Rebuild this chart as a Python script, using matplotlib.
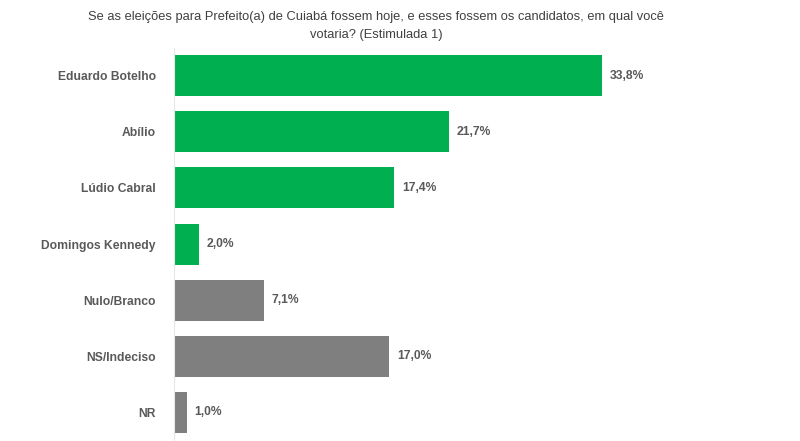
import numpy as np
import matplotlib.pyplot as plt

# data
names = ['Eduardo Botelho', 'Abílio', 'Lúdio Cabral', 'Domingos Kennedy',
         'Nulo/Branco', 'NS/Indeciso', 'NR']
values = [33.8, 21.7, 17.4, 2.0, 7.1, 17.0, 1.0]
colors = ['#00B050'] * 4 + ['#7F7F7F'] * 3

title = ('Se as eleições para Prefeito(a) de Cuiabá fossem hoje, e esses fossem os candidatos, em qual você\n'
         'votaria? (Estimulada 1)')

plt.rcParams['font.family'] = ['Liberation Sans', 'DejaVu Sans']
txt = '#595959'

fig = plt.figure(figsize=(8, 4.41), dpi=100)
ax = fig.add_axes([174 / 800, 0.001, 606 / 800, 393 / 441])

y = np.arange(len(names))
ax.barh(y, values, height=0.73, color=colors)
ax.set_xlim(0, 606 / 12.66)
ax.set_ylim(len(names) - 0.5, -0.5)

for yi, v in zip(y, values):
    ax.text(v + 0.6, yi, ('%.1f%%' % v).replace('.', ','), va='center', ha='left',
            fontsize=8.7, fontweight='bold', color=txt)

ax.set_yticks(y)
ax.set_yticklabels(names, fontsize=8.7, fontweight='bold', color=txt)
ax.tick_params(axis='y', length=0, pad=13)
ax.set_xticks([])
for s in ['top', 'right', 'bottom']:
    ax.spines[s].set_visible(False)
ax.spines['left'].set_color('#E6E6E6')
ax.spines['left'].set_linewidth(0.8)

fig.text(376 / 800, 1 - 26 / 441, title, ha='center', va='center', fontsize=9.3,
         color='#404040', linespacing=1.7)

fig.savefig('out.png', dpi=100)
